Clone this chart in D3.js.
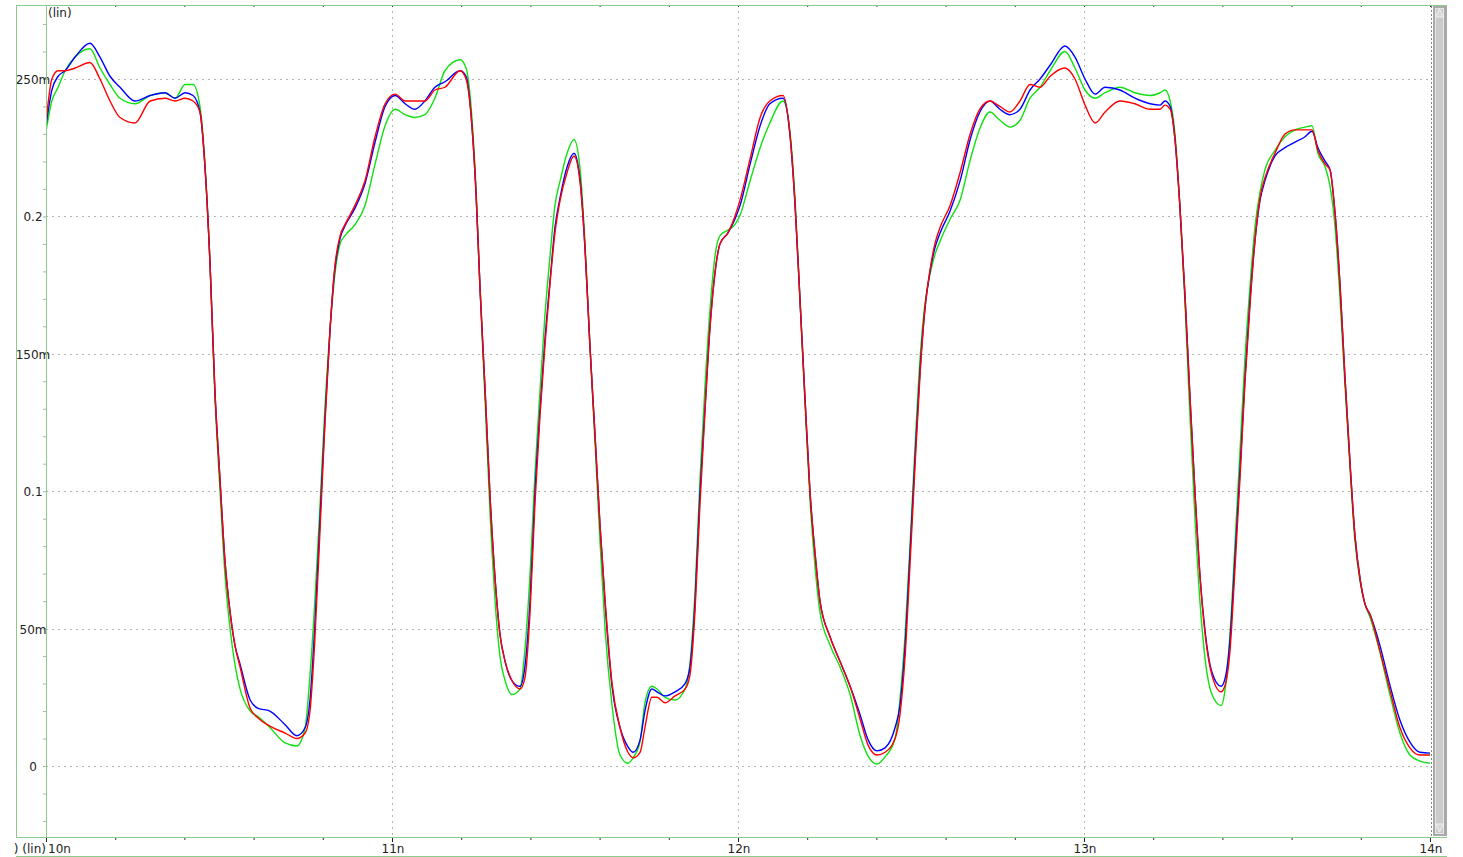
<!DOCTYPE html>
<html lang="en">
    <head>
        <meta charset="utf-8"/>
        <script src="https://d3js.org/d3.v7.min.js"></script>
        <style>
            body { margin: 0; background: #fff; }
            text { font-family: "DejaVu Sans", sans-serif; font-size: 12px; fill: #222; }
        </style>
    </head>
    <body>
        <div id="chart"></div>
    </body>
    <script>
        // waveform viewer look: three traces, 10n .. 14n

        // time in ns (shared by all three traces)
        var timesNs = [
            10.000, 10.017, 10.035, 10.055, 10.084, 10.127, 10.156, 10.185, 10.214, 10.257,
            10.301, 10.344, 10.373, 10.402, 10.425, 10.445, 10.460, 10.474, 10.488, 10.503,
            10.517, 10.532, 10.546, 10.561, 10.590, 10.613, 10.647, 10.691, 10.725, 10.749,
            10.763, 10.777, 10.792, 10.806, 10.821, 10.835, 10.850, 10.864, 10.893, 10.922,
            10.951, 10.980, 11.009, 11.038, 11.066, 11.095, 11.124, 11.153, 11.197, 11.214,
            11.231, 11.243, 11.254, 11.269, 11.283, 11.298, 11.312, 11.327, 11.347, 11.370,
            11.384, 11.399, 11.413, 11.428, 11.442, 11.457, 11.471, 11.486, 11.506, 11.526,
            11.543, 11.558, 11.572, 11.587, 11.601, 11.616, 11.636, 11.659, 11.682, 11.697,
            11.717, 11.731, 11.751, 11.766, 11.789, 11.818, 11.847, 11.861, 11.876, 11.890,
            11.905, 11.919, 11.934, 11.948, 11.971, 11.991, 12.006, 12.035, 12.064, 12.092,
            12.130, 12.150, 12.165, 12.179, 12.194, 12.208, 12.223, 12.237, 12.266, 12.295,
            12.324, 12.353, 12.376, 12.402, 12.425, 12.454, 12.468, 12.483, 12.497, 12.512,
            12.526, 12.540, 12.555, 12.569, 12.584, 12.613, 12.642, 12.671, 12.699, 12.728,
            12.757, 12.786, 12.815, 12.844, 12.873, 12.902, 12.945, 12.974, 13.003, 13.032,
            13.061, 13.104, 13.147, 13.191, 13.220, 13.234, 13.249, 13.263, 13.277, 13.292,
            13.306, 13.321, 13.335, 13.350, 13.370, 13.396, 13.408, 13.422, 13.436, 13.451,
            13.465, 13.480, 13.494, 13.509, 13.523, 13.552, 13.581, 13.610, 13.639, 13.659,
            13.676, 13.697, 13.711, 13.725, 13.740, 13.754, 13.769, 13.783, 13.798, 13.812,
            13.827, 13.855, 13.884, 13.913, 13.942, 13.971, 14.000
        ];

        // values in mV
        var blueMv = [
            233, 246, 251, 253, 258, 263, 258, 251, 247, 242,
            244, 245, 243, 245, 244, 238, 217, 183, 137, 104,
            75, 56, 44, 37, 24, 21, 20, 15, 11, 14,
            24, 51, 90, 126, 159, 181, 192, 196.5, 203, 212,
            227, 240, 244, 241, 239, 242, 247, 249, 253, 251,
            233, 208, 175, 137, 99, 68, 48, 38, 31, 29,
            36, 60, 99, 130, 155, 177, 196, 207, 218, 223,
            214, 188, 153, 120, 88, 59, 29, 14, 7, 5,
            9.5, 20, 28, 27, 25.5, 27, 30, 36, 60, 99,
            131, 160, 180, 190, 194, 199, 204, 219, 233, 241,
            243, 230, 204, 170, 133, 100, 77, 60, 47, 38,
            29, 18.6, 9.5, 5.5, 6.6, 14, 22, 44, 77, 113,
            144, 166, 180, 188.5, 194, 202, 213, 228, 238, 242,
            239, 237, 239, 246, 250, 255, 262, 258, 250, 244.5,
            247, 246, 243, 241, 240.5, 242, 240, 228, 204, 171,
            135, 99, 69.5, 49, 34, 29, 32, 46, 75, 108,
            140.5, 170, 191, 206, 213, 222, 225, 227, 229, 231,
            225, 220, 217, 202, 175, 142, 110, 84, 68, 59,
            55, 44, 29.5, 16.7, 8.7, 5, 4.7
        ];

        var redMv = [
            234, 250, 253, 253, 254, 256, 250, 242, 236, 234,
            242, 243, 242, 243, 242, 238, 217, 183, 137, 104,
            75, 56, 44, 36, 21, 17.5, 14.5, 12, 10, 12,
            20, 46, 86, 124, 159, 182, 193, 197, 204, 213,
            229, 241, 244.5, 242, 242, 242, 246, 247, 253, 250,
            233, 208, 175, 137, 99, 68, 48, 38, 31, 28,
            32, 56, 95, 128, 153, 176, 194, 206, 216, 222,
            213, 188, 153, 120, 88, 60, 30, 14, 5, 3,
            5, 14, 25, 25, 23, 25.5, 28, 33, 57, 95,
            130, 159, 180, 190, 194, 200, 206, 221, 236, 242,
            244, 230, 204, 170, 133, 100, 77, 60, 47, 38,
            29, 17, 7.6, 4, 5, 10, 18.6, 40, 73, 110,
            142, 166, 180.5, 190, 196, 204, 216, 230, 239, 242,
            240, 238, 242, 248, 247, 251, 254, 250, 240.5, 234,
            238, 242, 241, 239, 239, 240.5, 239, 228, 204, 171,
            135, 99, 69.5, 48, 33, 27, 29.5, 42, 71, 105,
            139, 168, 191, 207, 214, 223, 230, 231.5, 231.5, 231.5,
            224, 219, 217, 202, 175, 142, 110, 84, 68, 59,
            55, 42, 27.7, 14, 6.6, 4, 4
        ];

        var greenMv = [
            231, 242, 247, 253, 258, 261, 254, 248, 243, 241,
            244, 245, 243, 248, 248, 240, 218, 183, 135, 100,
            70, 50, 37, 28, 20, 18, 14, 8.4, 7.3, 14,
            33, 60, 95, 130, 159, 179, 190, 193, 197, 204,
            219, 233, 239, 237, 236, 237, 243, 253, 257, 254,
            236, 210, 175, 133, 93, 60, 40, 31, 26, 28,
            42, 70, 106, 137, 164, 186, 204, 213, 223, 228,
            218, 190, 153, 117, 82, 49.5, 22, 4, 1, 3,
            9, 23, 29, 28, 25, 24, 28, 37, 64, 104,
            139, 166, 186, 193, 195, 197, 200.5, 213, 225, 234,
            242, 231, 206, 170, 131, 97, 72, 56, 44, 36,
            26, 11, 3.6, 0.7, 3.3, 10, 24, 48, 80, 117,
            148, 168, 179, 186, 191, 199, 206, 220.5, 232, 238,
            235, 232.5, 235, 243, 247, 253, 260, 254, 246, 243,
            245, 247, 245, 244, 245, 246, 242, 230, 204, 168,
            128, 89.5, 60, 39, 26, 22, 28, 48, 80, 115,
            148, 175, 196, 209, 217, 224, 229, 231.5, 232.5, 233,
            223, 218, 211, 197, 170, 139, 108, 82, 67, 59,
            54, 41.5, 26, 12, 4, 1.8, 1
        ];

        var yTickValues = [0, 50, 100, 150, 200, 250];
        var yTickLabels = ["0", "50m", "0.1", "150m", "0.2", "250m"];
        var xTickValues = [10, 11, 12, 13, 14];
        var xTickLabels = ["10n", "11n", "12n", "13n", "14n"];

        var traces = [
            { name: "green", color: "#11e011", values: greenMv },
            { name: "blue", color: "#0000ff", values: blueMv },
            { name: "red", color: "#ff0000", values: redMv }
        ];

        var margin = { top: 5, right: 33, bottom: 20, left: 46 };
        var fullWidth = 1463;
        var fullHeight = 857;
        var width = fullWidth - margin.left - margin.right;
        var height = fullHeight - margin.top - margin.bottom;
        var frame = "#8ccb8c";

        var svg = d3.select("#chart")
            .append("svg")
                .attr("width", fullWidth)
                .attr("height", fullHeight)
                .style("display", "block");

        svg.append("rect")
            .attr("width", fullWidth)
            .attr("height", fullHeight)
            .attr("fill", "#fff");

        var g = svg.append("g")
            .attr("transform", "translate(" + margin.left + "," + margin.top + ")");

        var x = d3.scaleLinear()
            .domain([10, 14])
            .range([0, width]);

        // 250m sits at y=79 and 0 at y=766 in the window
        var y = d3.scaleLinear()
            .domain([-25.84, 276.93])
            .range([height, 0]);

        // dotted grid
        g.append("g")
            .selectAll("line")
            .data(yTickValues)
            .join("line")
                .attr("x1", 0)
                .attr("x2", width)
                .attr("y1", function (d) { return Math.round(y(d)) + 0.5; })
                .attr("y2", function (d) { return Math.round(y(d)) + 0.5; })
                .attr("stroke", "#b4b4b4")
                .attr("stroke-dasharray", "2,4");

        g.append("g")
            .selectAll("line")
            .data([11, 12, 13])
            .join("line")
                .attr("x1", function (d) { return Math.round(x(d)) + 0.5; })
                .attr("x2", function (d) { return Math.round(x(d)) + 0.5; })
                .attr("y1", 0)
                .attr("y2", height)
                .attr("stroke", "#b4b4b4")
                .attr("stroke-dasharray", "2,4");

        // traces
        g.append("clipPath")
            .attr("id", "plotclip")
            .append("rect")
                .attr("width", width + 1)
                .attr("height", height);

        var line = d3.line()
            .curve(d3.curveMonotoneX);

        g.append("g")
            .attr("clip-path", "url(#plotclip)")
            .selectAll("path")
            .data(traces)
            .join("path")
                .attr("fill", "none")
                .attr("stroke", function (d) { return d.color; })
                .attr("stroke-width", 1.4)
                .attr("stroke-linejoin", "round")
                .attr("d", function (d) {
                    var n = Math.min(timesNs.length, d.values.length);
                    var pts = [];
                    for (var i = 0; i < n; i++) {
                        pts.push([x(timesNs[i]), y(d.values[i])]);
                    }
                    return line(pts);
                });

        // left axis: minor ticks every 10m, labels at grid lines
        var yAxis = d3.axisLeft(y)
            .tickValues(d3.range(-20, 271, 10))
            .tickSize(3)
            .tickFormat("");

        var yAxisG = g.append("g").call(yAxis);
        yAxisG.select(".domain").remove();
        yAxisG.selectAll(".tick line").attr("stroke", "#9fbf9f");

        g.append("g")
            .selectAll("text")
            .data(yTickValues)
            .join("text")
                .attr("x", -13)
                .attr("y", function (d) { return y(d) + 5; })
                .attr("text-anchor", "middle")
                .text(function (d, i) { return yTickLabels[i]; });

        g.append("text")
            .attr("x", 2)
            .attr("y", 12)
            .text("(lin)");

        // bottom axis
        var xMinor = d3.range(0, 21).map(function (i) { return 10 + i * 0.2; });

        var xAxis = d3.axisBottom(x)
            .tickValues(xMinor)
            .tickSize(3)
            .tickFormat("");

        var xAxisG = g.append("g")
            .attr("transform", "translate(0," + height + ")")
            .call(xAxis);
        xAxisG.select(".domain").remove();
        xAxisG.selectAll(".tick line").attr("stroke", "#333");

        g.append("g")
            .attr("transform", "translate(0," + height + ")")
            .selectAll("line")
            .data(xTickValues)
            .join("line")
                .attr("x1", function (d) { return Math.round(x(d)) + 0.5; })
                .attr("x2", function (d) { return Math.round(x(d)) + 0.5; })
                .attr("y1", 0)
                .attr("y2", 5)
                .attr("stroke", "#222");

        // small ticks along the top edge too
        var xAxisTop = d3.axisBottom(x)
            .tickValues(xMinor)
            .tickSize(2)
            .tickFormat("");
        var xTopG = g.append("g").call(xAxisTop);
        xTopG.select(".domain").remove();
        xTopG.selectAll(".tick line").attr("stroke", "#333");

        g.append("g")
            .selectAll("text")
            .data(xTickValues)
            .join("text")
                .attr("x", function (d) { return d === 10 ? x(d) + 2 : x(d) + 1; })
                .attr("y", height + 16)
                .attr("text-anchor", function (d) { return d === 10 ? "start" : "middle"; })
                .text(function (d, i) { return xTickLabels[i]; });

        svg.append("text")
            .attr("x", margin.left)
            .attr("y", margin.top + height + 16)
            .attr("text-anchor", "end")
            .text(") (lin)");

        // frame lines
        var px = margin.left + width;
        svg.append("line").attr("x1", 16.5).attr("x2", 16.5).attr("y1", 5).attr("y2", 837).attr("stroke", frame);
        svg.append("line").attr("x1", 46.5).attr("x2", 46.5).attr("y1", 5).attr("y2", 837).attr("stroke", frame);
        svg.append("line").attr("x1", 16).attr("x2", 1447).attr("y1", 5.5).attr("y2", 5.5).attr("stroke", frame);
        svg.append("line").attr("x1", 16).attr("x2", 1447).attr("y1", 837.5).attr("y2", 837.5).attr("stroke", frame);
        svg.append("line").attr("x1", 16).attr("x2", 1447).attr("y1", 856.5).attr("y2", 856.5).attr("stroke", frame);
        svg.append("line")
            .attr("x1", px + 1.5).attr("x2", px + 1.5)
            .attr("y1", 6).attr("y2", 837)
            .attr("stroke", "#6f8f6f")
            .attr("stroke-dasharray", "2,2");

        // scrollbar on the right
        var sb = svg.append("g");
        sb.append("rect")
            .attr("x", 1433).attr("y", 6).attr("width", 14).attr("height", 830)
            .attr("fill", "#a9a9a9");
        sb.append("rect")
            .attr("x", 1435.5).attr("y", 8.5).attr("width", 8).attr("height", 825)
            .attr("fill", "#cbcbcb")
            .attr("stroke", "#e6e6e6");
        sb.append("path")
            .attr("d", "M1439.5,9 L1435.5,17 L1443.5,17 Z")
            .attr("fill", "#d8d8d8")
            .attr("stroke", "#f2f2f2");
        sb.append("path")
            .attr("d", "M1439.5,832 L1435.5,824 L1443.5,824 Z")
            .attr("fill", "#d8d8d8")
            .attr("stroke", "#f2f2f2");
    </script>
</html>
